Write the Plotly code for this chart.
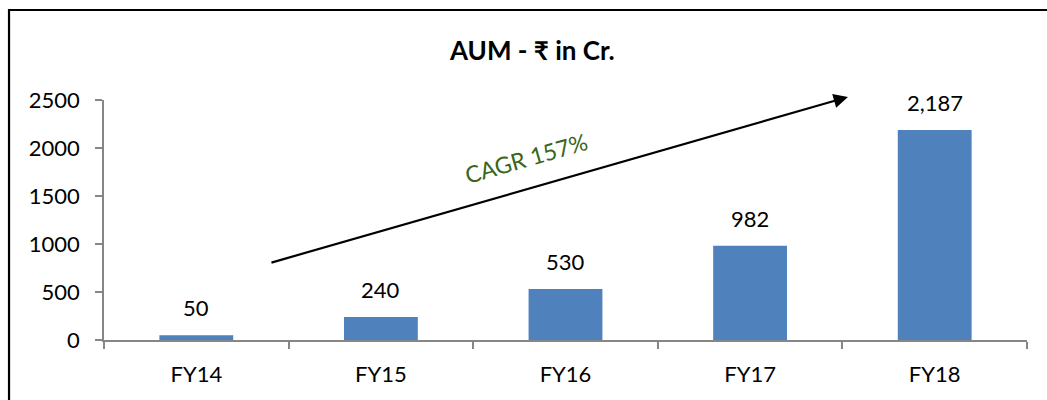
import plotly.graph_objects as go

# AUM by financial year, Rs crore
years = ["FY14", "FY15", "FY16", "FY17", "FY18"]
aum = [50, 240, 530, 982, 2187]
y_ticks = [0, 500, 1000, 1500, 2000, 2500]
cagr_label = "CAGR 157%"
title_text = "AUM - ₹ in Cr."

FONT = "Lato, 'Noto Sans', sans-serif"
BAR = "#4f81bd"
AXIS = "#868686"

fig = go.Figure()
fig.add_trace(go.Bar(x=years, y=aum, width=0.4, marker=dict(color=BAR, line=dict(width=0)),
                     hoverinfo="skip"))

# value labels above the bars
for yr, v in zip(years, aum):
    fig.add_annotation(x=yr, y=v, text=f"{v:,}", showarrow=False, yanchor="bottom",
                       yshift=12, font=dict(family=FONT, size=22, color="#000000"))

# growth arrow and its label
fig.add_annotation(x=0.806, y=1.0125, xref="paper", yref="paper", ax=-578, ay=166,
                   showarrow=True, arrowhead=2, arrowsize=1.3, arrowwidth=2.2,
                   arrowcolor="#000000", text="")
fig.add_annotation(x=0.457, y=0.76, xref="paper", yref="paper", text=cagr_label,
                   showarrow=False, textangle=-16, xanchor="center", yanchor="middle",
                   font=dict(family=FONT, size=23, color="#38661a"))

# title
fig.add_annotation(x=0.4637, y=1.208, xref="paper", yref="paper", text=f"<b>{title_text}</b>",
                   showarrow=False, xanchor="center", yanchor="middle",
                   font=dict(family=FONT, size=26, color="#000000"))

# outer chart border
fig.add_shape(type="rect", xref="paper", yref="paper", x0=-0.1029, x1=1.04, y0=-0.3, y1=1.375,
              line=dict(color="#000000", width=2.2), fillcolor="rgba(0,0,0,0)")

fig.update_layout(
    width=1047, height=400,
    margin=dict(l=104, r=20, t=100, b=60),
    paper_bgcolor="#ffffff", plot_bgcolor="#ffffff",
    showlegend=False, bargap=0.6,
    font=dict(family=FONT, size=22, color="#000000"),
)
fig.update_xaxes(type="category", showline=True, linecolor=AXIS, linewidth=1.5,
                 ticks="outside", tickson="boundaries", ticklen=7, tickcolor=AXIS, tickwidth=1.5,
                 showgrid=False, ticklabelstandoff=14, tickfont=dict(family=FONT, size=22))
fig.update_yaxes(range=[0, 2500], tickvals=y_ticks, showline=True, linecolor=AXIS, linewidth=1.5,
                 ticks="outside", ticklen=7, tickcolor=AXIS, tickwidth=1.5, showgrid=False,
                 zeroline=False, ticklabelstandoff=11, tickfont=dict(family=FONT, size=22))

fig.write_html("out.html")
